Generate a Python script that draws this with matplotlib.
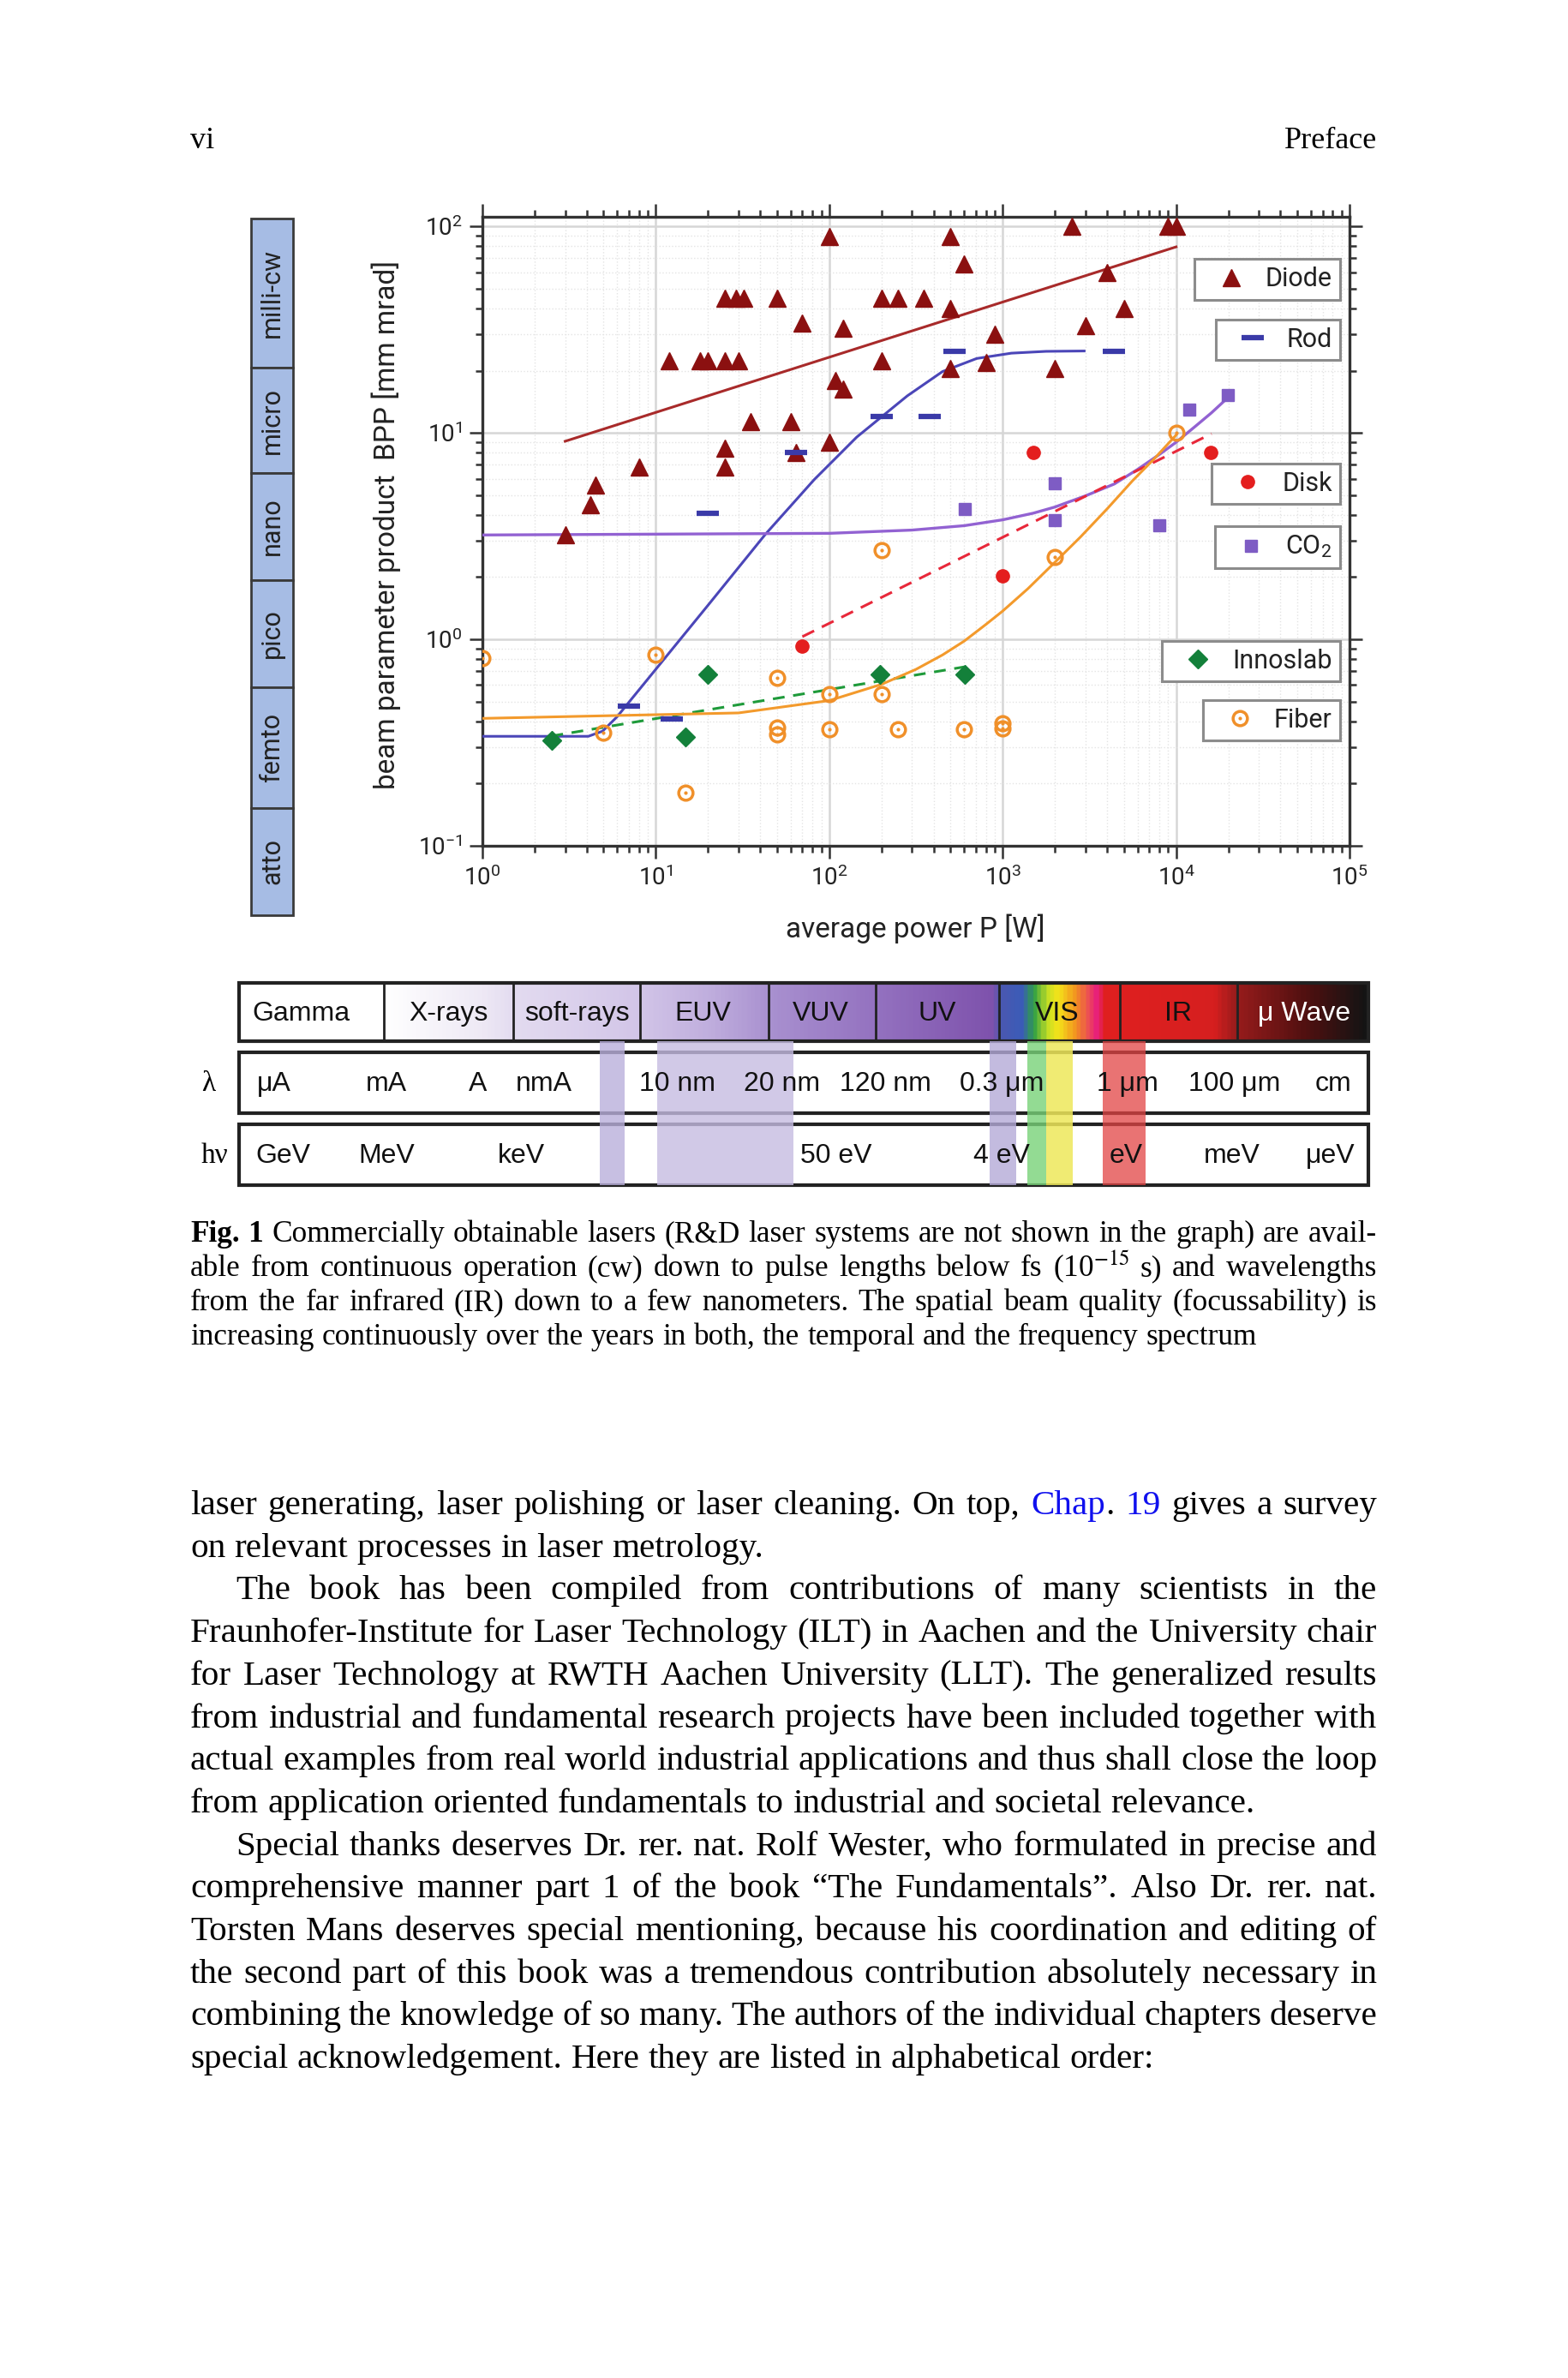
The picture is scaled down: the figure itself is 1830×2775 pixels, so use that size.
import numpy as np
import matplotlib
matplotlib.use("Agg")
import matplotlib.pyplot as plt
from matplotlib.colors import LinearSegmentedColormap
from matplotlib.legend_handler import HandlerTuple
from matplotlib.patches import Rectangle
from matplotlib.ticker import LogLocator, NullFormatter

plt.rcParams['font.family'] = ['Roboto', 'DejaVu Sans']
plt.rcParams['mathtext.fontset'] = 'stix'

# ---- laser data: average power P [W], BPP [mm mrad]
diode_p = [3, 4.2, 4.5, 8, 12, 18, 20, 25, 30, 25, 29, 32, 50, 70, 120, 100, 35, 60,
           25, 25, 64, 100, 108, 120, 200, 250, 350, 200, 500, 600, 2500, 9000, 10000,
           4000, 5000, 3000, 900, 500, 500, 800, 2000]
diode_bpp = [3.2, 4.5, 5.6, 6.8, 22.4, 22.4, 22.4, 22.4, 22.4, 45, 45, 45, 45, 34, 32, 89,
             11.3, 11.3, 8.4, 6.8, 8.0, 9.0, 18, 16.3, 45, 45, 45, 22.4, 89, 66, 100, 100,
             100, 60, 40, 33, 30, 40, 20.5, 22, 20.5]
rod_p = [7.0, 12.3, 20, 64, 200, 380, 530, 4400]
rod_bpp = [0.473, 0.41, 4.06, 8.05, 12, 12, 24.9, 24.9]
disk_p = [70, 1000, 1500, 15800]
disk_bpp = [0.93, 2.03, 8.05, 8.05]
co2_p = [605, 2000, 2000, 8000, 11900, 19900]
co2_bpp = [4.27, 5.7, 3.78, 3.58, 12.9, 15.2]
inno_p = [2.5, 14.8, 20, 197, 605]
inno_bpp = [0.324, 0.336, 0.679, 0.679, 0.679]
fiber_p = [1.0, 10, 4.96, 14.8, 50, 50, 50, 100, 100, 200, 250, 600, 1000, 1000, 200, 2000, 10000]
fiber_bpp = [0.81, 0.84, 0.353, 0.18, 0.65, 0.373, 0.347, 0.542, 0.368, 0.542, 0.368, 0.368,
             0.394, 0.37, 2.7, 2.5, 10.0]

# trend curves
diode_fit_p = [3, 10000]
diode_fit_bpp = [9.1, 79.5]
rod_fit_p = [1, 4.08, 4.93, 5.97, 10, 20, 42.9, 81.7, 144, 282, 450, 708, 1122, 1778, 2951]
rod_fit_bpp = [0.339, 0.339, 0.359, 0.421, 0.716, 1.462, 3.23, 5.92, 9.53, 15.1, 19.8, 22.9,
               24.3, 24.8, 24.9]
co2_fit_p = [1, 100, 300, 600, 1000, 1500, 2000, 3000, 4400, 6000, 8000, 10000, 13000, 16000,
             19200]
co2_fit_bpp = [3.2, 3.26, 3.38, 3.55, 3.79, 4.08, 4.37, 4.95, 5.65, 6.65, 7.85, 9.0, 10.8,
               12.5, 14.4]
disk_fit_p = [70, 16000]
disk_fit_bpp = [1.03, 9.9]
inno_fit_p = [2.5, 600]
inno_fit_bpp = [0.34, 0.735]
fiber_fit_p = [1, 30, 100, 200, 316, 450, 600, 800, 1000, 1400, 2000, 2800, 4000, 5600, 7500,
               10000]
fiber_fit_bpp = [0.414, 0.44, 0.505, 0.605, 0.715, 0.84, 0.98, 1.18, 1.37, 1.76, 2.36, 3.12,
                 4.28, 5.85, 7.5, 9.75]

# ---- labels of the page furniture
pulse_regimes = ['milli-cw', 'micro', 'nano', 'pico', 'femto', 'atto']
spectral_bands = ['Gamma', 'X-rays', 'soft-rays', 'EUV', 'VUV', 'UV', 'VIS', 'IR', 'μ Wave']
wavelength_marks = ['μA', 'mA', 'A', 'nmA', '10 nm', '20 nm', '120 nm', '0.3 μm', '1 μm',
                    '100 μm', 'cm']
energy_marks = ['GeV', 'MeV', 'keV', '50 eV', '4 eV', 'eV', 'meV', 'μeV']

caption_lines = [
    "Commercially obtainable lasers (R&D laser systems are not shown in the graph) are avail-",
    "able from continuous operation (cw) down to pulse lengths below fs (10$^{-15}$ s) and wavelengths",
    "from the far infrared (IR) down to a few nanometers. The spatial beam quality (focussability) is",
    "increasing continuously over the years in both, the temporal and the frequency spectrum",
]
body_lines = [
    "laser generating, laser polishing or laser cleaning. On top, Chap. 19 gives a survey",
    "on relevant processes in laser metrology.",
    "The book has been compiled from contributions of many scientists in the",
    "Fraunhofer-Institute for Laser Technology (ILT) in Aachen and the University chair",
    "for Laser Technology at RWTH Aachen University (LLT). The generalized results",
    "from industrial and fundamental research projects have been included together with",
    "actual examples from real world industrial applications and thus shall close the loop",
    "from application oriented fundamentals to industrial and societal relevance.",
    "Special thanks deserves Dr. rer. nat. Rolf Wester, who formulated in precise and",
    "comprehensive manner part 1 of the book \u201cThe Fundamentals\u201d. Also Dr. rer. nat.",
    "Torsten Mans deserves special mentioning, because his coordination and editing of",
    "the second part of this book was a tremendous contribution absolutely necessary in",
    "combining the knowledge of so many. The authors of the individual chapters deserve",
    "special acknowledgement. Here they are listed in alphabetical order:",
]
body_indent = [False, False, True, False, False, False, False, False, True, False, False, False, False, False]
body_last = [False, True, False, False, False, False, False, True, False, False, False, False, False, True]

W, H = 1831, 2775
fig = plt.figure(figsize=(W / 100, H / 100), dpi=100)
fig.patch.set_facecolor('white')

# page layer in pixel coordinates
pg = fig.add_axes([0, 0, 1, 1])
pg.set_xlim(0, W)
pg.set_ylim(H, 0)
pg.axis('off')

# ---- main chart
ax = fig.add_axes([563 / W, 1 - 987 / H, (1575 - 563) / W, (987 - 253) / H])
ax.set_xscale('log')
ax.set_yscale('log')
ax.set_xlim(1, 1e5)
ax.set_ylim(0.1, 10 ** 2.046)

ax.plot(diode_fit_p, diode_fit_bpp, color='#A82A2A', lw=2.2, zorder=3)
ax.plot(rod_fit_p, rod_fit_bpp, color='#4B46B8', lw=2.2, zorder=3)
ax.plot(co2_fit_p, co2_fit_bpp, color='#9262D2', lw=2.4, zorder=3)
ax.plot(disk_fit_p, disk_fit_bpp, color='#E8283A', lw=2.2, ls=(0, (5, 3.3)), zorder=3)
ax.plot(inno_fit_p, inno_fit_bpp, color='#1E9A3A', lw=2.2, ls=(0, (4.5, 3.3)), zorder=3)
ax.plot(fiber_fit_p, fiber_fit_bpp, color='#F39A2C', lw=2.2, zorder=3)

h_diode, = ax.plot(diode_p, diode_bpp, ls='none', marker='^', ms=14, color='#8B1010', zorder=4)
h_rod, = ax.plot(rod_p, rod_bpp, ls='none', marker='_', ms=19, mew=4.5, color='#3A3AA8', zorder=4)
h_disk, = ax.plot(disk_p, disk_bpp, ls='none', marker='o', ms=11, color='#E41E1E', zorder=4)
h_co2, = ax.plot(co2_p, co2_bpp, ls='none', marker='s', ms=10, color='#7E5CC4', zorder=4)
h_inno, = ax.plot(inno_p, inno_bpp, ls='none', marker='D', ms=11, color='#13803A', zorder=4)
h_fib1, = ax.plot(fiber_p, fiber_bpp, ls='none', marker='o', ms=12, mfc='none', mec='#F0902A',
                  mew=2.5, zorder=4)
h_fib2, = ax.plot(fiber_p, fiber_bpp, ls='none', marker='.', ms=4, color='#F0902A', zorder=4)

for axis in (ax.xaxis, ax.yaxis):
    axis.set_major_locator(LogLocator(base=10, numticks=12))
    axis.set_minor_locator(LogLocator(base=10, subs=np.arange(2, 10), numticks=12))
    axis.set_minor_formatter(NullFormatter())
ax.tick_params(which='both', direction='out', top=True, right=True, labelsize=20,
               width=1.8, color='#333333', labelcolor='#222222')
ax.tick_params(which='major', length=11, pad=6)
ax.tick_params(which='minor', length=6)
for s in ax.spines.values():
    s.set_linewidth(2.4)
    s.set_color('#333333')
ax.grid(which='major', color='#D6D6D6', lw=1.8)
ax.grid(which='minor', color='#E4E4E4', lw=1.0, ls=':')
ax.set_axisbelow(True)

ax.set_xlabel('average power P [W]', fontsize=24, color='#222222')
ax.set_ylabel('beam parameter product  BPP [mm mrad]', fontsize=24, color='#222222')
ax.xaxis.set_label_coords(0.499, -0.108)
ax.yaxis.set_label_coords(-0.094, 0.51)

legend_items = [(h_diode, 'Diode', 0.933), (h_rod, 'Rod', 0.837), (h_disk, 'Disk', 0.608),
                (h_co2, r'CO$_{\mathdefault{2}}$', 0.508), (h_inno, 'Innoslab', 0.326),
                ((h_fib1, h_fib2), 'Fiber', 0.232)]
for handle, label, top in legend_items:
    leg = ax.legend([handle], [label], loc='upper right', bbox_to_anchor=(0.989, top),
                    bbox_transform=ax.transAxes, borderaxespad=0, fancybox=False,
                    framealpha=1, edgecolor='#8C8C8C', fontsize=22, handlelength=2.2,
                    handletextpad=0.2, borderpad=0.3, numpoints=1,
                    handler_map={tuple: HandlerTuple(ndivide=1, pad=0)})
    leg.get_frame().set_linewidth(2.2)
    for t in leg.get_texts():
        t.set_color('#222222')
    ax.add_artist(leg)

# ---- pulse regime bar on the left
bar_edges = [255, 429, 552, 677, 802, 943, 1068]
for name, y0, y1 in zip(pulse_regimes, bar_edges[:-1], bar_edges[1:]):
    pg.add_patch(Rectangle((293, y0), 49, y1 - y0, facecolor='#A6BCE4', edgecolor='#3A3A3A',
                           lw=2.0))
    pg.text(317.5, (y0 + y1) / 2, name, rotation=90, ha='center', va='center', fontsize=22,
            color='#222222')

# ---- spectrum table
cell_edges = [279, 448, 599, 747, 897, 1022, 1166, 1307, 1444, 1597]
grad_px = [279, 448, 560, 599, 747, 830, 897, 1022, 1160, 1168, 1195, 1208, 1225, 1237, 1258,
           1282, 1292, 1420, 1444, 1530, 1597]
grad_col = ['#FFFFFF', '#FFFFFF', '#EEE9F5', '#E3DBF0', '#D2C5E8', '#BFADDD', '#A991D0',
            '#9472C0', '#7E52AC', '#4C58B0', '#3A5CB8', '#2FA044', '#C8E024', '#F5E31A',
            '#F29020', '#E8207A', '#E02020', '#D61F1F', '#9A1C1C', '#4E1010', '#141414']
x0, x1 = cell_edges[0], cell_edges[-1]
cmap = LinearSegmentedColormap.from_list(
    'spec', [((p - x0) / (x1 - x0), c) for p, c in zip(grad_px, grad_col)])
pg.imshow(np.linspace(0, 1, 600)[None, :], cmap=cmap, aspect='auto',
          extent=[x0, x1, 1215, 1147], zorder=1)
pg.set_xlim(0, W)
pg.set_ylim(H, 0)
for e in cell_edges[1:-1]:
    pg.plot([e, e], [1147, 1215], color='#222222', lw=2.0, zorder=3)
pg.add_patch(Rectangle((x0, 1147), x1 - x0, 68, fill=False, edgecolor='#222222', lw=3, zorder=3))
band_centers = [351, 523, 673, 820, 958, 1094, 1234, 1375, 1522]
for name, cx in zip(spectral_bands, band_centers):
    pg.text(cx, 1183, name, ha='center', va='center', fontsize=23, family='Liberation Sans',
            color='white' if name == 'μ Wave' else '#111111', zorder=4)

for y0 in (1228, 1312):
    pg.add_patch(Rectangle((x0, y0), x1 - x0, 71, facecolor='white', edgecolor='#222222',
                           lw=3, zorder=2))
stripes = [(700, 729, '#B9AFDB', 0.8), (767, 926, '#C6BCE2', 0.8), (1155, 1186, '#B4AAD8', 0.8),
           (1199, 1221, '#78D278', 0.8), (1221, 1252, '#EEE85A', 0.85),
           (1287, 1337, '#E24444', 0.75)]
for a, b, c, al in stripes:
    pg.add_patch(Rectangle((a, 1215), b - a, 168, facecolor=c, edgecolor='none', alpha=al,
                           zorder=3))
wl_centers = [320, 451, 558, 635, 791, 913, 1033, 1169, 1316, 1441, 1556]
for name, cx in zip(wavelength_marks, wl_centers):
    pg.text(cx, 1265, name, ha='center', va='center', fontsize=23, family='Liberation Sans',
            color='#111111', zorder=4)
en_centers = [330, 451, 608, 976, 1169, 1314, 1438, 1553]
for name, cx in zip(energy_marks, en_centers):
    pg.text(cx, 1349, name, ha='center', va='center', fontsize=23, family='Liberation Sans',
            color='#111111', zorder=4)
pg.text(243, 1265, 'λ', ha='center', va='center', fontsize=24, family='Liberation Serif')
pg.text(250, 1349, 'hν', ha='center', va='center', fontsize=24, family='Liberation Serif')

# ---- running text, set justified word by word
renderer = fig.canvas.get_renderer()
SERIF = dict(family='Liberation Serif', color='black')
BOLD = dict(family='Liberation Serif', color='black', weight='bold')
BLUE = dict(family='Liberation Serif', color='#1010EE')


def text_width(s, size, style):
    t = pg.text(0, 0, s, fontsize=size, **style)
    w = t.get_window_extent(renderer).width
    t.remove()
    return w


def set_line(words, y, size, left, right, justify):
    widths = [sum(text_width(s, size, st) for s, st in w) for w in words]
    if justify and len(words) > 1:
        gap = (right - left - sum(widths)) / (len(words) - 1)
    else:
        gap = text_width('a a', size, SERIF) - text_width('aa', size, SERIF)
    x = left
    for w, wd in zip(words, widths):
        for s, st in w:
            pg.text(x, y, s, fontsize=size, ha='left', va='baseline', **st)
            x += text_width(s, size, st)
        x += gap


def plain(line):
    return [[(w, SERIF)] for w in line.split(' ')]


left, right = 222, 1607
body_size = 29.6
cap_size = 25.4

pg.text(left, 173, 'vi', fontsize=26, ha='left', va='baseline', **SERIF)
pg.text(right, 173, 'Preface', fontsize=26, ha='right', va='baseline', **SERIF)

for i, line in enumerate(caption_lines):
    words = plain(line)
    if i == 0:
        words = [[('Fig.', BOLD)], [('1', BOLD)]] + words
    set_line(words, 1449 + 40 * i, cap_size, left, right, justify=(i < 3))

for i, line in enumerate(body_lines):
    words = plain(line)
    if i == 0:
        words = [[('Chap', BLUE), ('.', SERIF)] if w[0][0] == 'Chap.' else
                 [('19', BLUE)] if w[0][0] == '19' else w for w in words]
    start = left + (53 if body_indent[i] else 0)
    set_line(words, 1767 + 49.7 * i, body_size, start, right, justify=not body_last[i])

fig.savefig('out.png', dpi=100, facecolor='white')
